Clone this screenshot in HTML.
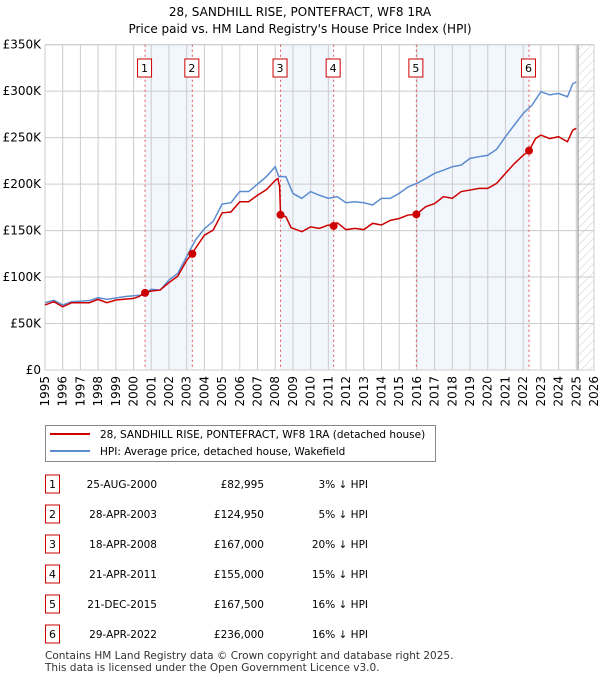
<!DOCTYPE html>
<html><head><meta charset="utf-8"><style>
body{margin:0;background:#fff;}
svg text{font-family:"DejaVu Sans","Liberation Sans",sans-serif;}
</style></head><body>
<svg id="c" width="600" height="680" xmlns="http://www.w3.org/2000/svg">
<text x="300" y="16" text-anchor="middle" font-size="12">28, SANDHILL RISE, PONTEFRACT, WF8 1RA</text>
<text x="300" y="33" text-anchor="middle" font-size="12">Price paid vs. HM Land Registry's House Price Index (HPI)</text>
<g id="plot"></g>
<g>
<rect x="45.5" y="425.5" width="390" height="36" fill="#fff" stroke="#888"/>
<line x1="50" y1="434" x2="90" y2="434" stroke="#cc0000" stroke-width="2"/>
<text x="100" y="438" font-size="10.5">28, SANDHILL RISE, PONTEFRACT, WF8 1RA (detached house)</text>
<line x1="50" y1="451" x2="90" y2="451" stroke="#5b8ccf" stroke-width="2"/>
<text x="100" y="455" font-size="10.5">HPI: Average price, detached house, Wakefield</text>
</g>
<g id="table"></g>
<text x="45" y="659" font-size="10.5" fill="#333">Contains HM Land Registry data © Crown copyright and database right 2025.</text>
<text x="45" y="671" font-size="10.5" fill="#333">This data is licensed under the Open Government Licence v3.0.</text>
</svg>
<script>
const hpiYears=[1995,1995.5,1996,1996.5,1997.5,1998,1998.5,1999.5,2000.5,2001,2001.5,2002,2002.5,2003,2003.5,2004,2004.5,2005,2005.5,2006,2006.5,2007,2007.5,2008,2008.2,2008.6,2009,2009.5,2010,2010.5,2011,2011.5,2012,2012.5,2013,2013.5,2014,2014.5,2015,2015.5,2016,2016.5,2017,2017.5,2018,2018.5,2019,2019.5,2020,2020.5,2021,2021.5,2022,2022.5,2023,2023.5,2024,2024.5,2024.8,2025];
const hpiValues=[72.4,75,70,73.5,74.6,77.8,76,79,80.7,86.8,86,96.8,104,122,140,152,160,178.6,180,192,192,200,208,218.7,208,208,190,184.7,192,188,184.7,186.5,180,181,180,177.5,184.7,184.7,190,197,200.8,206,211.6,215,218.7,220.5,227.7,229.5,231,237.4,251,263.6,276,285,299.4,296,297.6,294,308,310];
const priceYears=[1995,1995.5,1996,1996.5,1997.5,1998,1998.5,1999,2000,2000.3,2000.65,2001,2001.5,2002,2002.5,2003,2003.3,2003.5,2004,2004.5,2005,2005.5,2006,2006.5,2007,2007.5,2008,2008.15,2008.25,2008.3,2008.6,2008.9,2009,2009.5,2010,2010.5,2011,2011.3,2011.5,2012,2012.5,2013,2013.5,2014,2014.5,2015,2015.5,2015.97,2016.5,2017,2017.5,2018,2018.5,2019,2019.5,2020,2020.5,2021,2021.5,2022,2022.33,2022.7,2023,2023.5,2024,2024.5,2024.8,2025];
const priceValues=[70,73.5,68,72.4,72.4,76,72.4,75.3,77,79,83,85,86,94,101,118,124.95,131,145,150.6,169,170,181,181,188,194,204,206,197,167,165,153,152.4,148.8,154,152.4,156,155,158.5,151,152.4,151,157.8,156,161,163,166.7,167.5,175.7,179,186.5,184.7,192,193.6,195.4,195.4,200.8,211.6,222,231,236,249,252.8,249,251,245.6,258,260];
const saleYears=[2000.65,2003.32,2008.3,2011.3,2015.97,2022.33];
const saleValues=[82.995,124.95,167,155,167.5,236];
const saleDates=["25-AUG-2000","28-APR-2003","18-APR-2008","21-APR-2011","21-DEC-2015","29-APR-2022"];
const salePrices=["£82,995","£124,950","£167,000","£155,000","£167,500","£236,000"];
const saleDiffs=["3% ↓ HPI","5% ↓ HPI","20% ↓ HPI","15% ↓ HPI","16% ↓ HPI","16% ↓ HPI"];
const yTicks=[0,50,100,150,200,250,300,350];
const yTickLabels=["£0","£50K","£100K","£150K","£200K","£250K","£300K","£350K"];
const xTicks=[1995,1996,1997,1998,1999,2000,2001,2002,2003,2004,2005,2006,2007,2008,2009,2010,2011,2012,2013,2014,2015,2016,2017,2018,2019,2020,2021,2022,2023,2024,2025,2026];
const dataEndYear=2025.1;

const X0=45,X1=594,Y0=370,Y1=44.7;
const xs=y=>X0+(y-1995)/(2026-1995)*(X1-X0);
const ys=v=>Y0-v/350*(Y0-Y1);
const NS="http://www.w3.org/2000/svg";
const plot=document.getElementById('plot');
function mk(tag,attrs,parent){const e=document.createElementNS(NS,tag);for(const k in attrs)e.setAttribute(k,attrs[k]);(parent||plot).appendChild(e);return e;}

for(let i=0;i<saleYears.length;i+=2){
  const r=mk('rect',{x:xs(saleYears[i]),y:Y1,width:xs(saleYears[i+1])-xs(saleYears[i]),height:Y0-Y1,fill:'#f2f6fd'});
  
  
}
const defs=mk('defs',{});
const pat=mk('pattern',{id:'hatch',width:6,height:6,patternUnits:'userSpaceOnUse',patternTransform:'rotate(45)'},defs);
mk('line',{x1:0,y1:0,x2:0,y2:6,stroke:'#ccc','stroke-width':1},pat);
const hr=mk('rect',{x:xs(dataEndYear),y:Y1,width:X1-xs(dataEndYear),height:Y0-Y1,fill:'url(#hatch)'});


yTicks.forEach((t,i)=>{
  const l=mk('line',{x1:X0,y1:ys(t),x2:X1,y2:ys(t),stroke:'#ccc','stroke-width':1});
  
  
  const tx=mk('text',{x:X0-4,y:ys(t)+4,'text-anchor':'end','font-size':12});
  tx.textContent=yTickLabels[i];
  
  
});
xTicks.forEach(t=>{
  const l=mk('line',{x1:xs(t),y1:Y1,x2:xs(t),y2:Y0,stroke:'#ccc','stroke-width':1});
  
  
  const tx=mk('text',{x:0,y:0,'text-anchor':'end','font-size':12,transform:`translate(${xs(t)+4},376) rotate(-90)`});
  tx.textContent=t;
  
  
});
mk('line',{x1:xs(dataEndYear),y1:Y1,x2:xs(dataEndYear),y2:Y0,stroke:'#888','stroke-width':1});
mk('rect',{x:X0,y:Y1,width:X1-X0,height:Y0-Y1,fill:'none',stroke:'#ccc'});
saleYears.forEach((y,i)=>{
  const l=mk('line',{x1:xs(y),y1:Y1,x2:xs(y),y2:Y0,stroke:'#e05555','stroke-width':1,'stroke-dasharray':'2,3'});
  
  
  const b=mk('rect',{x:xs(y)-7.5,y:59,width:14,height:18,fill:'#fff',stroke:'#cc0000'});
  
  
  const t=mk('text',{x:xs(y)-0.5,y:72,'text-anchor':'middle','font-size':11});
  t.textContent=i+1;
  
  
});
const hp=mk('polyline',{points:hpiYears.map((y,i)=>xs(y)+','+ys(hpiValues[i])).join(' '),fill:'none',stroke:'#5b8ccf','stroke-width':1.5});


const pp=mk('polyline',{points:priceYears.map((y,i)=>xs(y)+','+ys(priceValues[i])).join(' '),fill:'none',stroke:'#cc0000','stroke-width':1.5});


saleYears.forEach((y,i)=>{
  const c=mk('circle',{cx:xs(y),cy:ys(saleValues[i]),r:4,fill:'#cc0000'});
  
  
});
const tb=document.getElementById('table');
saleDates.forEach((d,i)=>{
  const yy=484+i*30;
  const b=mk('rect',{x:45.5,y:yy-9,width:14,height:18,fill:'#fff',stroke:'#cc0000'},tb);
  
  
  const n=mk('text',{x:52.5,y:yy+4,'text-anchor':'middle','font-size':11},tb);
  n.textContent=i+1;
  
  
  const dt=mk('text',{x:157,y:yy+4,'text-anchor':'end','font-size':10.5},tb);
  dt.textContent=d;
  
  
  const pr=mk('text',{x:264,y:yy+4,'text-anchor':'end','font-size':10.5},tb);
  pr.textContent=salePrices[i];
  
  
  const df=mk('text',{x:368,y:yy+4,'text-anchor':'end','font-size':10.5},tb);
  df.textContent=saleDiffs[i];
  
  
});
</script>
</body></html>
